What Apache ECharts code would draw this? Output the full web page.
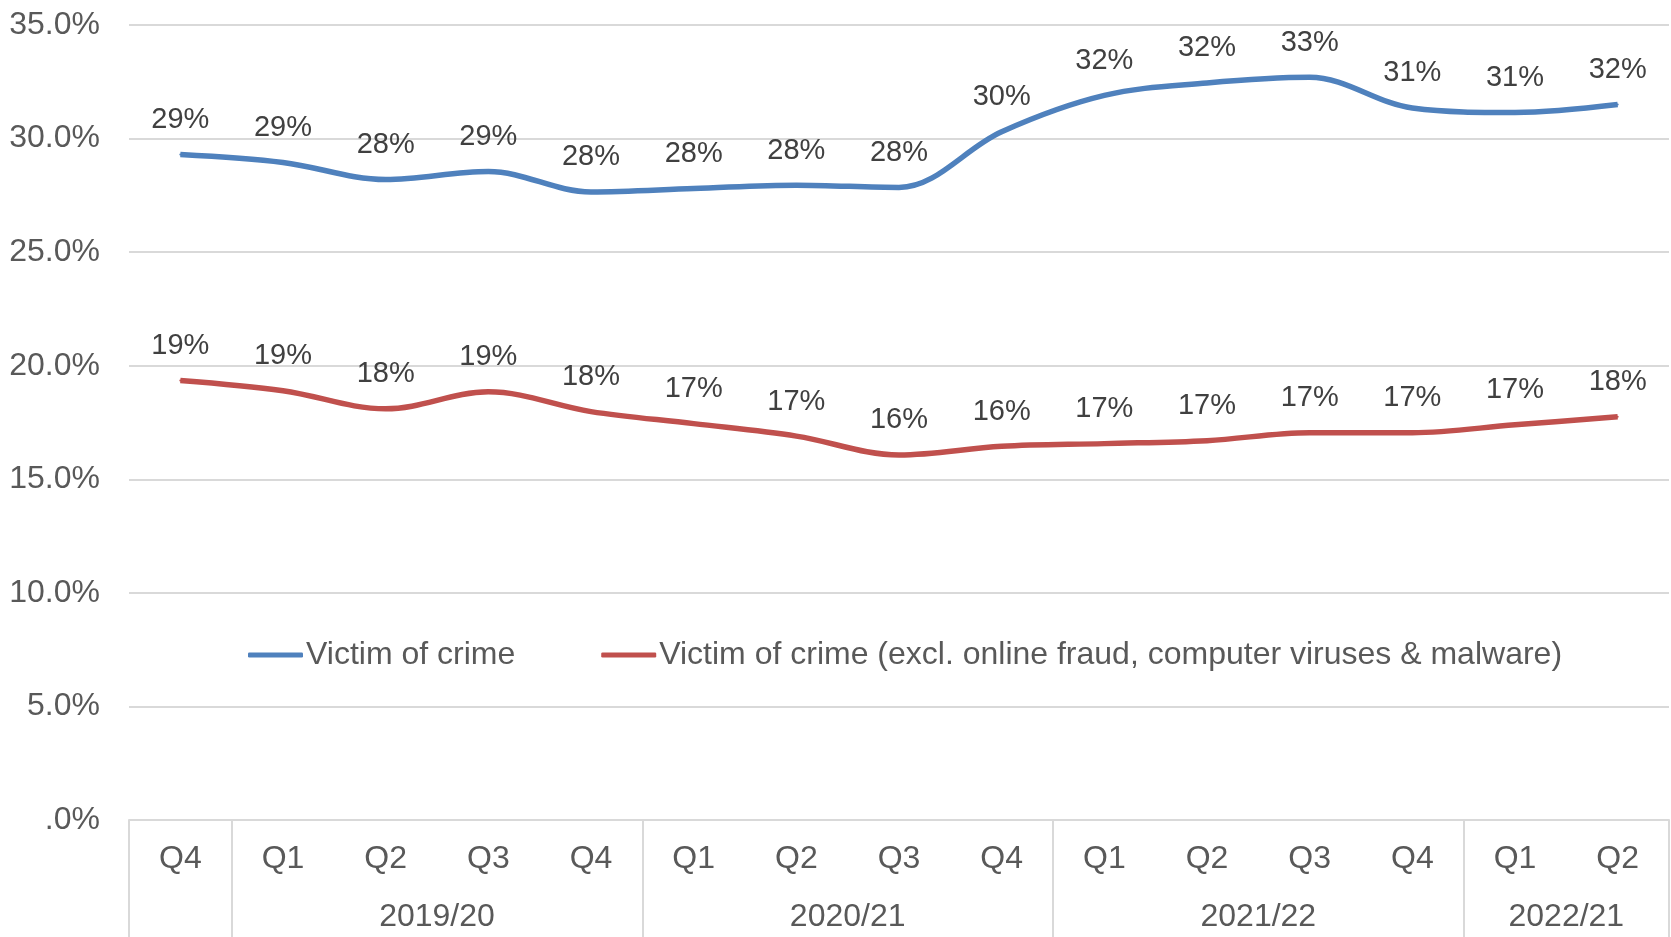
<!DOCTYPE html>
<html>
<head>
<meta charset="utf-8">
<script src="https://cdn.jsdelivr.net/npm/echarts@6/dist/echarts.min.js"></script>
<style>
  html, body { margin: 0; padding: 0; background: #ffffff; }
  #chart { width: 1671px; height: 937px; }
</style>
</head>
<body>
<div id="chart"></div>
<script>
// ---- Data ----
const quarters = ['Q4', 'Q1', 'Q2', 'Q3', 'Q4', 'Q1', 'Q2', 'Q3', 'Q4', 'Q1', 'Q2', 'Q3', 'Q4', 'Q1', 'Q2'];
const yearLabels = ['', '2019/20', '2020/21', '2021/22', '2022/21'];
const yearGroupSizes = [1, 4, 4, 4, 2];
const victimOfCrime = [29.3, 28.95, 28.2, 28.55, 27.65, 27.8, 27.95, 27.85, 30.3, 31.9, 32.45, 32.7, 31.35, 31.15, 31.5];
const victimExclOnline = [19.35, 18.9, 18.1, 18.85, 17.98, 17.45, 16.9, 16.07, 16.45, 16.57, 16.7, 17.05, 17.05, 17.4, 17.75];
const seriesNames = ['Victim of crime', 'Victim of crime (excl. online fraud, computer viruses & malware)'];
const yTicks = [0, 5, 10, 15, 20, 25, 30, 35];

// group boundaries and centres (in category index units)
const boundaries = [-0.5];
const centres = [];
let start = 0;
yearGroupSizes.forEach(function (n) {
  centres.push(start + (n - 1) / 2);
  start += n;
  boundaries.push(start - 0.5);
});

const FONT = 'Liberation Sans, Arial, sans-serif';
const chart = echarts.init(document.getElementById('chart'));

function lineSeries(name, data, color) {
  return {
    name: name,
    type: 'line',
    data: data,
    smooth: 0.35,
    symbol: 'circle',
    symbolSize: 2,
    showSymbol: true,
    itemStyle: { color: color },
    lineStyle: { color: color, width: 5.5 },
    label: {
      show: true,
      position: 'top',
      distance: 19,
      fontFamily: FONT,
      fontSize: 29,
      color: '#404040',
      formatter: function (p) { return Math.round(p.value) + '%'; }
    },
    emphasis: { disabled: true }
  };
}

chart.setOption({
  animation: false,
  textStyle: { fontFamily: FONT },
  grid: { left: 129, right: 2, top: 25, bottom: 117, containLabel: false },
  legend: {
    data: seriesNames,
    left: 243,
    top: 634,
    icon: 'roundRect',
    itemWidth: 55,
    itemHeight: 5,
    itemGap: 86,
    textStyle: { fontFamily: FONT, fontSize: 32, color: '#595959', padding: [0, 0, 0, -2] }
  },
  xAxis: [
    {
      type: 'category',
      data: quarters,
      boundaryGap: true,
      position: 'bottom',
      axisLine: { show: false },
      axisTick: { show: false },
      splitLine: { show: false },
      axisLabel: { fontFamily: FONT, fontSize: 32, color: '#595959', margin: 23, interval: 0 }
    },
    {
      type: 'value',
      min: -0.5,
      max: 14.5,
      position: 'bottom',
      offset: 0,
      axisLine: { show: true, lineStyle: { color: '#D9D9D9', width: 2 } },
      splitLine: { show: false },
      axisTick: {
        show: true,
        customValues: boundaries,
        length: 117,
        inside: false,
        lineStyle: { color: '#D9D9D9', width: 2 }
      },
      axisLabel: {
        show: true,
        customValues: centres,
        margin: 81,
        fontFamily: FONT,
        fontSize: 32,
        color: '#595959',
        showMinLabel: true,
        showMaxLabel: true,
        formatter: function (v) {
          const idx = centres.findIndex(function (c) { return Math.abs(c - v) < 1e-6; });
          return idx >= 0 ? yearLabels[idx] : '';
        }
      }
    }
  ],
  yAxis: {
    type: 'value',
    min: yTicks[0],
    max: yTicks[yTicks.length - 1],
    interval: 5,
    axisLine: { show: false },
    axisTick: { show: false },
    splitLine: { show: true, lineStyle: { color: '#D9D9D9', width: 2 } },
    axisLabel: {
      fontFamily: FONT,
      fontSize: 32,
      color: '#595959',
      margin: 29,
      formatter: function (v) { return v === 0 ? '.0%' : v.toFixed(1) + '%'; }
    }
  },
  series: [
    lineSeries(seriesNames[0], victimOfCrime, '#4F81BD'),
    lineSeries(seriesNames[1], victimExclOnline, '#C0504D')
  ]
});
</script>
</body>
</html>
